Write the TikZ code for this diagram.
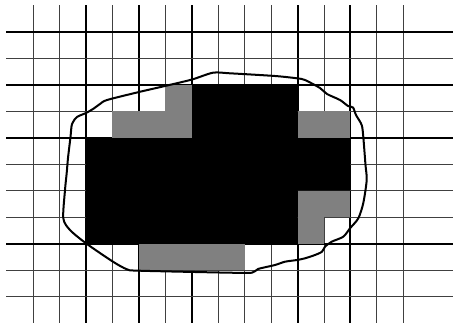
\documentclass[tikz,border=0pt]{standalone}
\begin{document}
\begin{tikzpicture}[x=1pt,y=-1pt,
  thinln/.style={line width=0.9pt, black!75},
  thickln/.style={line width=2pt, black},
  blob/.style={line width=2pt, black, line join=round},
  greyfill/.style={fill=black!50}]
\useasboundingbox (0,0) rectangle (453,327);
\fill[white] (0,0) rectangle (453,327);
% grid
\foreach \i in {0,...,14} \draw[thinln] ({33+26.45*\i},5) -- ({33+26.45*\i},323);
\foreach \i in {2,4,6,10,12} \draw[thickln] ({33+26.45*\i},5) -- ({33+26.45*\i},323);
\foreach \j in {0,...,10} \draw[thinln] (6,{31.7+26.5*\j}) -- (453,{31.7+26.5*\j});
\foreach \j in {0,2,4,8} \draw[thickln] (6,{31.7+26.5*\j}) -- (453,{31.7+26.5*\j});
% cells
\begin{scope}[shift={(33,31.7)}, x=26.45pt, y=-26.5pt]
\fill[black] (2,4) -- (6,4) -- (6,2) -- (10,2) -- (10,4) -- (12,4) -- (12,6) -- (10,6) -- (10,8) -- (2,8) -- cycle;
\fill[greyfill] (3,3) rectangle (6,4);
\fill[greyfill] (5,2) rectangle (6,3);
\fill[greyfill] (10,3) rectangle (12,4);
\fill[greyfill] (10,6) rectangle (12,7);
\fill[greyfill] (10,7) rectangle (11,8);
\fill[greyfill] (4,8) rectangle (8,9);
\end{scope}
% outline
\draw[blob] plot[smooth cycle, tension=0.45] coordinates {
 (66.7,173) (68,158) (70.5,137) (72,124) (77,117) (86,113) (93,109) (100,104) (107,100)
 (139,92) (165,86) (192,79.5) (213,72.7) (230,73.3) (275,76) (297,78.3) (305,80)
 (320,88) (327,94) (340,100) (348,106) (353,107.5) (356,115) (361.7,125) (363.3,137)
 (365.5,165) (366.7,180) (363.3,203) (358.3,218.3) (350,228.3) (343.3,236.7)
 (331.7,241.7) (325,246.7) (322,251.7) (315,255) (305,258.3) (297,260) (285,261.7)
 (275,265) (258,269) (252,272.7) (230,272.7) (139,270.7) (127,269.3) (113,261.7)
 (86,243.3) (70,230) (63.3,218.3) (65,190)};
\end{tikzpicture}
\end{document}
